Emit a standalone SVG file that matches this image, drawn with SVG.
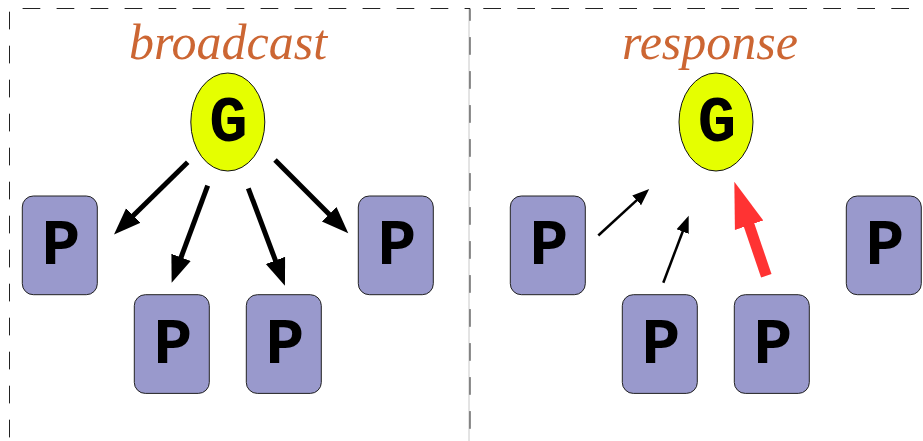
<svg xmlns="http://www.w3.org/2000/svg" width="923" height="441" viewBox="0 0 923 441">
<style>
.frame{fill:none;stroke:#222;stroke-width:1;stroke-dasharray:17.7 16.3}
.title{font-family:"Liberation Serif",serif;font-style:italic;font-size:50px;fill:#cc6633;text-anchor:middle}
.p rect{fill:#9999cc;stroke:#222;stroke-width:1}
.g ellipse{fill:#e5ff00;stroke:#111;stroke-width:1}
.lbl{font-family:"Liberation Mono",monospace;font-weight:bold;font-size:64px;fill:#000;text-anchor:middle}
.thick{stroke:#000;stroke-width:5;fill:none}
.thin{stroke:#000;stroke-width:2.5;fill:none}
.red{stroke:#ff3333;stroke-width:11;fill:none}
</style>
<defs>
<marker id="hThick" markerUnits="userSpaceOnUse" markerWidth="30" markerHeight="24" viewBox="-1 -12 30 24" refX="0" refY="0" orient="auto"><path d="M-1,-10.3 L26,0 L-1,10.3 z" fill="#000"/></marker>
<marker id="hThin" markerUnits="userSpaceOnUse" markerWidth="20" markerHeight="16" viewBox="-1 -8 20 16" refX="0" refY="0" orient="auto"><path d="M-1,-6.5 L16,0 L-1,6.5 z" fill="#000"/></marker>
<marker id="hRed" markerUnits="userSpaceOnUse" markerWidth="50" markerHeight="34" viewBox="-1 -17 50 34" refX="0" refY="0" orient="auto"><path d="M-1,-15 L45,0 L-1,15 z" fill="#ff3333"/></marker>
</defs>

<g id="frames">
<line x1="469" y1="8.5" x2="469" y2="441" stroke="#c8c8c8" stroke-width="1"/>
<path class="frame" d="M9.5,441 V8.5 H470 V441" stroke-dashoffset="30.4"/>
<path class="frame" d="M483.3,8.5 H923"/>
</g>

<text class="title" x="228" y="58.5">broadcast</text>
<text class="title" x="710" y="58.5">response</text>

<g id="G1" class="g"><ellipse cx="227.8" cy="122" rx="37" ry="49"/><text class="lbl" x="228.5" y="141">G</text></g>
<g id="P1" class="p"><rect x="22.3" y="196" width="75" height="98.7" rx="11"/><text class="lbl" x="61" y="264.3">P</text></g>
<g id="P2" class="p"><rect x="134.3" y="294.7" width="75" height="98.7" rx="11"/><text class="lbl" x="173" y="363">P</text></g>
<g id="P3" class="p"><rect x="246.3" y="294.7" width="75" height="98.7" rx="11"/><text class="lbl" x="285" y="363">P</text></g>
<g id="P4" class="p"><rect x="358.3" y="196" width="75" height="98.7" rx="11"/><text class="lbl" x="397" y="264.3">P</text></g>

<g id="G2" class="g"><ellipse cx="716" cy="122" rx="37" ry="49"/><text class="lbl" x="717" y="141">G</text></g>
<g id="P5" class="p"><rect x="510.3" y="196" width="75" height="98.7" rx="11"/><text class="lbl" x="549" y="264.3">P</text></g>
<g id="P6" class="p"><rect x="622.3" y="294.7" width="75" height="98.7" rx="11"/><text class="lbl" x="661" y="363">P</text></g>
<g id="P7" class="p"><rect x="734.3" y="294.7" width="75" height="98.7" rx="11"/><text class="lbl" x="773" y="363">P</text></g>
<g id="P8" class="p"><rect x="846.3" y="196" width="75" height="98.7" rx="11"/><text class="lbl" x="885" y="264.3">P</text></g>

<g id="connectors">
<line class="thick" x1="187.7" y1="162.3" x2="132.6" y2="216.2" marker-end="url(#hThick)"/>
<line class="thick" x1="207.7" y1="185.7" x2="180.7" y2="258.3" marker-end="url(#hThick)"/>
<line class="thick" x1="248.3" y1="188.3" x2="275.8" y2="261.4" marker-end="url(#hThick)"/>
<line class="thick" x1="275" y1="160" x2="329.9" y2="214.9" marker-end="url(#hThick)"/>
<line class="thin" x1="598.3" y1="235.5" x2="637.4" y2="199.7" marker-end="url(#hThin)"/>
<line class="thin" x1="663.3" y1="282.7" x2="683" y2="230.7" marker-end="url(#hThin)"/>
<line class="red" x1="766.3" y1="275.8" x2="748.8" y2="224.3" marker-end="url(#hRed)"/>
</g>
</svg>
